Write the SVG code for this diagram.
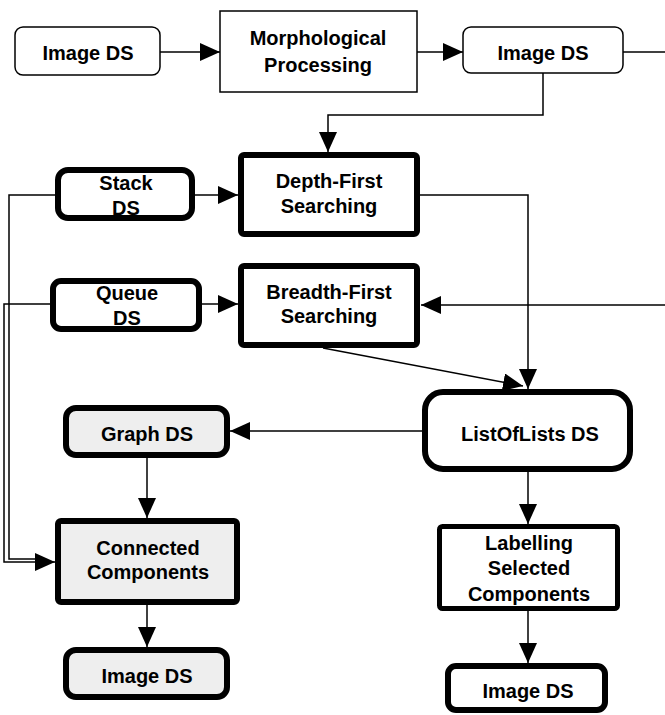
<svg xmlns="http://www.w3.org/2000/svg" width="665" height="715" viewBox="0 0 665 715">
<defs>
<marker id="ah" markerUnits="userSpaceOnUse" markerWidth="20" markerHeight="18" refX="20" refY="9" orient="auto">
<path d="M0,0 L20,9 L0,18 z" fill="#000"/>
</marker>
<style>
text{font-family:"Liberation Sans",Arial,sans-serif;font-weight:bold;font-size:20px;text-anchor:middle;fill:#000}
.thin{fill:#fff;stroke:#000;stroke-width:1.5}
.thick{fill:#fff;stroke:#000;stroke-width:6}
.gray{fill:#eeeeee}
.c{fill:none;stroke:#000;stroke-width:1.5}
.ca{fill:none;stroke:#000;stroke-width:1.5;marker-end:url(#ah)}
</style>
</defs>
<rect width="665" height="715" fill="#fff"/>
<g id="connectors">
<path class="ca" d="M160,52 H220"/>
<path class="ca" d="M417,52 H463"/>
<path class="c" d="M623,52 H665"/>
<path class="ca" d="M543,73 V115 H328 V152"/>
<path class="ca" d="M195,195 H238"/>
<path class="ca" d="M202,304 H238"/>
<path class="ca" d="M420,195 H528 V389"/>
<path class="ca" d="M665,305 H421"/>
<path class="ca" d="M323,348 L523,386"/>
<path class="ca" d="M422,431 H230"/>
<path class="ca" d="M147,458 V518"/>
<path class="ca" d="M147,605 V647"/>
<path class="ca" d="M528,472 V524"/>
<path class="ca" d="M528,611 V663"/>
<path class="c" d="M55,195 H9 V559 H40"/>
<path class="ca" d="M50,304 H4 V562 H55"/>
</g>
<g id="imageds1">
<rect class="thin" x="15" y="27" width="145" height="48" rx="8"/>
<text x="88" y="60">Image DS</text>
</g>
<g id="morph">
<rect class="thin" x="220" y="11" width="197" height="81"/>
<text x="318" y="45">Morphological</text>
<text x="318" y="72">Processing</text>
</g>
<g id="imageds2">
<rect class="thin" x="463" y="27" width="160" height="46" rx="8"/>
<text x="543" y="60">Image DS</text>
</g>
<g id="stack">
<rect class="thick" x="58" y="170" width="134" height="48" rx="10"/>
<text x="126" y="190">Stack</text>
<text x="126" y="215">DS</text>
</g>
<g id="queue">
<rect class="thick" x="53" y="281" width="146" height="48" rx="8"/>
<text x="127" y="300">Queue</text>
<text x="127" y="325">DS</text>
</g>
<g id="dfs">
<rect class="thick" x="241" y="155" width="176" height="79" rx="3"/>
<text x="329" y="188">Depth-First</text>
<text x="329" y="213">Searching</text>
</g>
<g id="bfs">
<rect class="thick" x="241" y="266" width="176" height="79" rx="3"/>
<text x="329" y="299">Breadth-First</text>
<text x="329" y="323">Searching</text>
</g>
<g id="listoflists">
<rect class="thick" x="425" y="392" width="205" height="77" rx="18"/>
<text x="530" y="441">ListOfLists DS</text>
</g>
<g id="graphds">
<rect class="thick gray" x="66" y="408" width="161" height="47" rx="10"/>
<text x="147" y="441">Graph DS</text>
</g>
<g id="connected">
<rect class="thick gray" x="58" y="521" width="179" height="81" rx="3"/>
<text x="148" y="555">Connected</text>
<text x="148" y="579">Components</text>
</g>
<g id="imageds3">
<rect class="thick gray" x="66" y="650" width="161" height="47" rx="10"/>
<text x="147" y="683">Image DS</text>
</g>
<g id="labelling">
<rect class="thick" x="439.5" y="526.5" width="178" height="82" rx="3" style="stroke-width:5"/>
<text x="529" y="550">Labelling</text>
<text x="529" y="575">Selected</text>
<text x="529" y="601">Components</text>
</g>
<g id="imageds4">
<rect class="thick" x="448" y="666" width="157" height="44" rx="8"/>
<text x="528" y="698">Image DS</text>
</g>
</svg>
